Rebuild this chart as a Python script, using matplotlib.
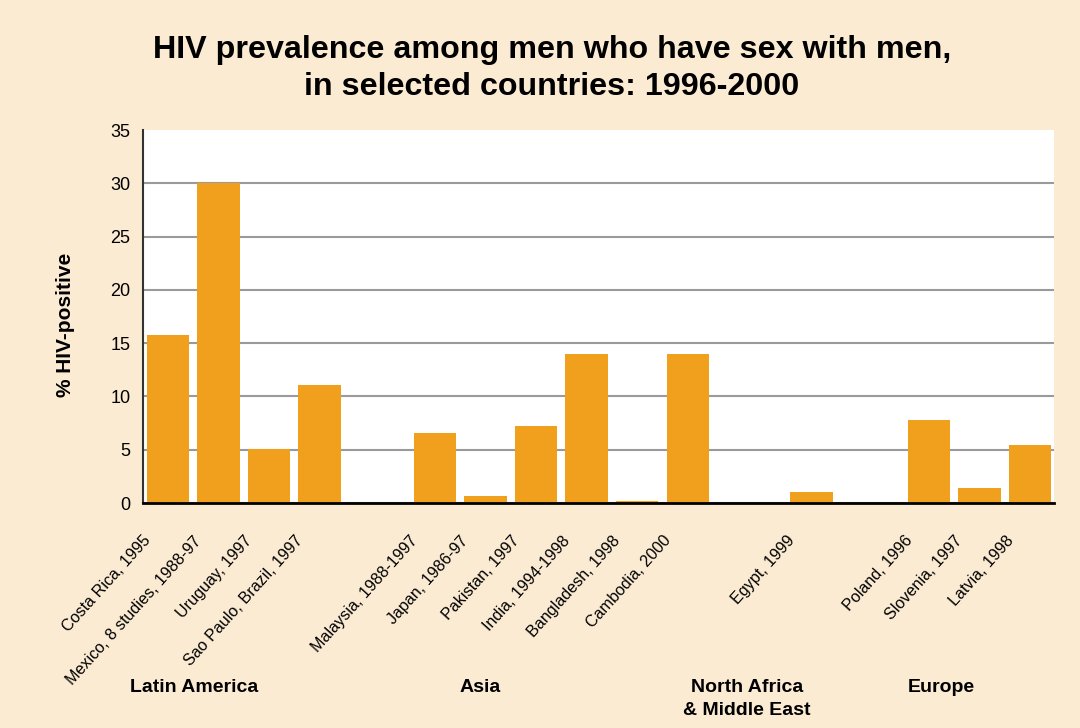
import matplotlib.pyplot as plt
from matplotlib.transforms import ScaledTranslation

plt.rcParams['font.family'] = ['Liberation Sans', 'DejaVu Sans']

# data
groups = ["Latin America", "Asia", "North Africa\n& Middle East", "Europe"]
labels = [
    ["Costa Rica, 1995", "Mexico, 8 studies, 1988-97", "Uruguay, 1997", "Sao Paulo, Brazil, 1997"],
    ["Malaysia, 1988-1997", "Japan, 1986-97", "Pakistan, 1997", "India, 1994-1998",
     "Bangladesh, 1998", "Cambodia, 2000"],
    ["Egypt, 1999"],
    ["Poland, 1996", "Slovenia, 1997", "Latvia, 1998"],
]
values = [
    [15.8, 30.0, 5.1, 11.1],
    [6.6, 0.7, 7.2, 14.0, 0.2, 14.0],
    [1.0],
    [7.8, 1.4, 5.4],
]
yticks = [0, 5, 10, 15, 20, 25, 30, 35]

bg = '#fbebd3'
bar_col = '#f0a01c'

# x positions: one slot per bar, extra space between regions
gaps = [0, 1.28, 1.45, 1.32]
xs, ys, names = [], [], []
pos = 0.0
for g, (labs, vals) in enumerate(zip(labels, values)):
    if g > 0:
        pos += gaps[g]
    for lab, v in zip(labs, vals):
        xs.append(pos)
        ys.append(v)
        names.append(lab)
        pos += 1
pos -= 1

fig = plt.figure(figsize=(10.8, 7.28), dpi=100, facecolor=bg)
ax = fig.add_axes([0.1324, 0.309, 0.9759 - 0.1324, 0.8214 - 0.309])
ax.set_facecolor('white')

ax.bar(xs, ys, width=0.84, color=bar_col, zorder=3)
ax.set_xlim(-0.49, pos + 0.47)
ax.set_ylim(0, 35)
ax.set_yticks(yticks)
ax.yaxis.grid(True, color='#9a9a9a', lw=1.5, zorder=1)
ax.set_axisbelow(True)
ax.get_ygridlines()[-1].set_visible(False)

for s in ['top', 'right']:
    ax.spines[s].set_visible(False)
ax.spines['left'].set_color('#333333')
ax.spines['left'].set_linewidth(1.5)
ax.spines['bottom'].set_color('black')
ax.spines['bottom'].set_linewidth(2)
ax.spines['bottom'].set_zorder(4)

ax.tick_params(axis='y', length=0, pad=9, labelsize=13)

ax.tick_params(axis='x', length=0, pad=8)
ax.set_xticks(xs)
ax.set_xticklabels(names, rotation=48, ha='right', va='top',
                   rotation_mode='anchor', fontsize=11.6)
shift = ScaledTranslation(-0.25, -0.19, fig.dpi_scale_trans)
for t in ax.get_xticklabels():
    t.set_transform(t.get_transform() + shift)

ax.set_ylabel('% HIV-positive', fontsize=15, fontweight='bold')
ax.yaxis.set_label_coords(-0.075, 0.477)

fig.text(0.511, 1 - 68.5 / 728, 'HIV prevalence among men who have sex with men,\nin selected countries: 1996-2000',
         ha='center', va='center', fontsize=23.2, fontweight='bold', linespacing=1.28)

# region labels under the tick labels
group_x = [194, 480, 747, 941]
for gx, name in zip(group_x, groups):
    nl = name.count('\n')
    fig.text(gx / 1080, 1 - (687 + 12 * nl) / 728, name, ha='center', va='center',
             fontsize=14, fontweight='bold', linespacing=1.45)

fig.savefig('out.png', dpi=100, facecolor=bg)
